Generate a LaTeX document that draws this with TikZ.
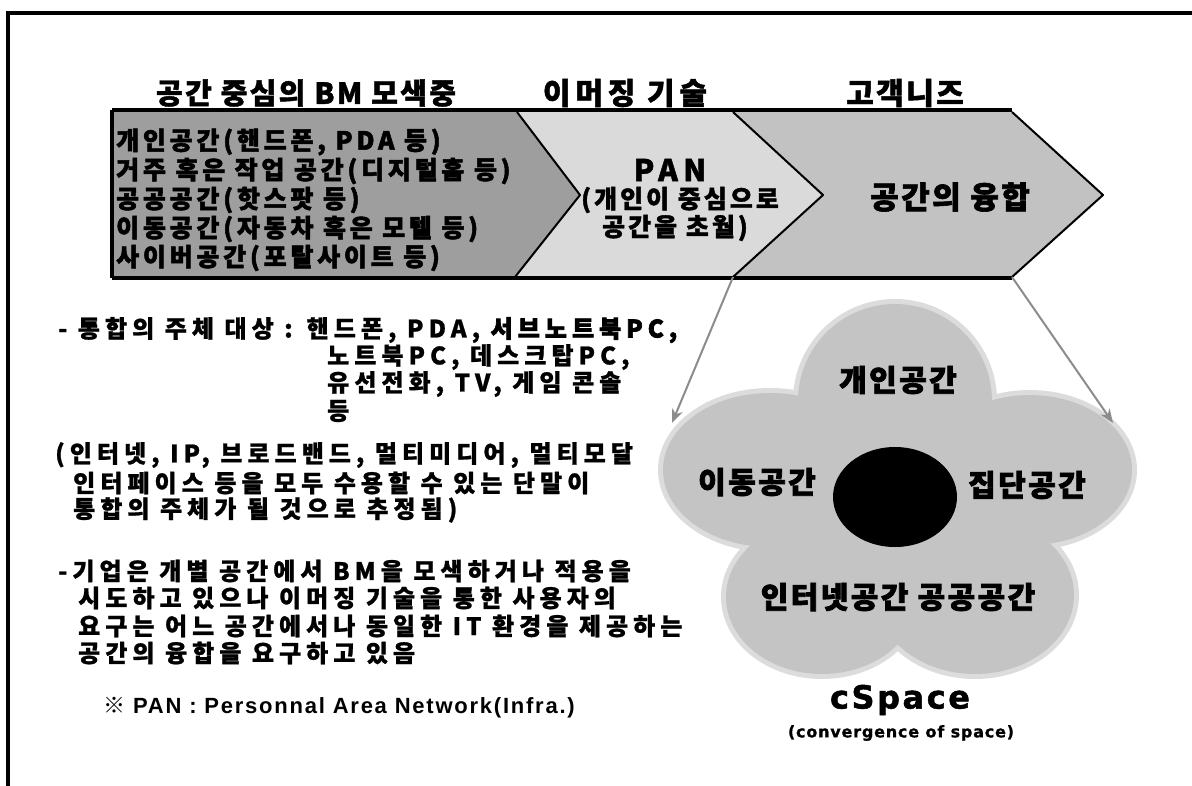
\documentclass[tikz,border=0pt]{standalone}
\usepackage{fontspec}
\setmainfont{Liberation Sans}
\newfontfamily\kr{Noto Sans CJK KR}
\newfontfamily\dvs{DejaVu Sans}
\usetikzlibrary{arrows.meta}
\definecolor{chA}{HTML}{9E9E9E}
\definecolor{chB}{HTML}{DADADA}
\definecolor{chC}{HTML}{C2C2C2}
\definecolor{cloudc}{HTML}{C4C4C4}
\definecolor{cloudh}{HTML}{DCDCDC}
\definecolor{arrowgray}{HTML}{8C8C8C}
\begin{document}
\begin{tikzpicture}[x=1pt,y=-1pt,
  hdr/.style={inner sep=0pt, font=\kr\bfseries\fontsize{29}{31}\selectfont\addfontfeature{LetterSpace=8,FakeBold=1.5}},
  chevtxt/.style={inner sep=0pt, anchor=west, font=\kr\bfseries\fontsize{25}{29}\selectfont\addfontfeature{LetterSpace=15,FakeBold=2}},
  pantxt/.style={inner sep=0pt, font=\kr\bfseries\fontsize{25}{28}\selectfont\addfontfeature{LetterSpace=12,FakeBold=1.5}},
  bigtxt/.style={inner sep=0pt, font=\kr\bfseries\fontsize{31}{33}\selectfont\addfontfeature{LetterSpace=8,FakeBold=2}},
  cloudtxt/.style={inner sep=0pt, font=\kr\bfseries\fontsize{30}{32}\selectfont\addfontfeature{LetterSpace=8,FakeBold=2.5}},
  bodytxt/.style={inner sep=0pt, anchor=west, font=\kr\bfseries\fontsize{24}{26}\selectfont\addfontfeature{LetterSpace=21,FakeBold=1}},
  notetxt/.style={inner sep=0pt, anchor=west, font=\bfseries\fontsize{22}{24}\selectfont\addfontfeature{LetterSpace=8}},
  conn/.style={draw=arrowgray, line width=2, -{Stealth[length=14pt,width=11pt]}},
  outline/.style={draw=black, line width=2, line join=round}
]
\useasboundingbox (0,0) rectangle (1192,785);
\fill[white] (0,0) rectangle (1192,785);

% frame
\draw[line width=3.5] (8,13) -- (8,800);
\draw[line width=4] (6,13) -- (1200,13);

% headers
\node[hdr] (h1) at (306,93) {공간 중심의 BM 모색중};
\node[hdr, font=\kr\bfseries\fontsize{30}{32}\selectfont\addfontfeature{LetterSpace=16,FakeBold=1.5}] (h2) at (625,93) {이머징 기술};
\node[hdr, font=\kr\bfseries\fontsize{30}{32}\selectfont\addfontfeature{LetterSpace=8,FakeBold=1.5}] (h3) at (905,93) {고객니즈};

% chevrons
\coordinate (c2br) at (733,277);
\coordinate (c3br) at (1012,277);
\fill[chA] (112,112) -- (517,112) -- (580,195) -- (515,277) -- (112,277) -- cycle;
\fill[chB] (517,112) -- (733,112) -- (823,195) -- (733,277) -- (515,277) -- (580,195) -- cycle;
\fill[chC] (733,112) -- (1012,112) -- (1103,195) -- (1012,277) -- (733,277) -- (823,195) -- cycle;
\draw[outline] (517,112) -- (580,195) -- (515,277);
\draw[outline] (733,112) -- (823,195) -- (733,277);
\draw[outline] (1012,112) -- (1103,195) -- (1012,277);
\draw[line width=3.5] (112,110) -- (1012,110);
\draw[line width=3.5] (112,278) -- (1012,278);
\draw[line width=3.5] (112,110) -- (112,278);

% chevron texts
\node[chevtxt] (t1) at (116,142) {개인공간(핸드폰, PDA 등)};
\node[chevtxt] (t2) at (116,171) {거주 혹은 작업 공간(디지털홈 등)};
\node[chevtxt] (t3) at (116,200) {공공공간(핫스팟 등)};
\node[chevtxt] (t4) at (116,229) {이동공간(자동차 혹은 모텔 등)};
\node[chevtxt] (t5) at (116,258) {사이버공간(포탈사이트 등)};
\node[pantxt, font=\kr\bfseries\fontsize{30}{32}\selectfont\addfontfeature{LetterSpace=18,FakeBold=1.5}] (pan) at (670,170) {PAN};
\node[pantxt] (pan2) at (680,200) {(개인이 중심으로};
\node[pantxt] (pan3) at (675,228) {공간을 초월)};
\node[bigtxt] (fuse) at (950,197) {공간의 융합};

% cloud halo
\fill[cloudh] (895,401) circle [radius=102];
\fill[cloudh] (770,470) ellipse [x radius=112, y radius=82];
\fill[cloudh] (1030,470) ellipse [x radius=107, y radius=80];
\fill[cloudh] (822,597) ellipse [x radius=101, y radius=82];
\fill[cloudh] (975,595) ellipse [x radius=104, y radius=84];
% cloud
\fill[cloudc] (895,401) circle [radius=97];
\fill[cloudc] (770,470) ellipse [x radius=107, y radius=77];
\fill[cloudc] (1030,470) ellipse [x radius=102, y radius=75];
\fill[cloudc] (822,597) ellipse [x radius=96, y radius=77];
\fill[cloudc] (975,595) ellipse [x radius=99, y radius=79];
\fill[cloudc] (900,495) ellipse [x radius=150, y radius=110];
\fill[black] (895,497) ellipse [x radius=62, y radius=50];
\node[cloudtxt] (s1) at (898,380) {개인공간};
\node[cloudtxt] (s2) at (757,482) {이동공간};
\node[cloudtxt] (s3) at (1027,485) {집단공간};
\node[cloudtxt] (s4) at (898,597) {인터넷공간 공공공간};
\node[inner sep=0pt, font=\dvs\bfseries\fontsize{32}{34}\selectfont\addfontfeature{LetterSpace=8,FakeBold=1.5}] (cs) at (900,700) {cSpace};
\node[inner sep=0pt, font=\dvs\bfseries\fontsize{16}{18}\selectfont\addfontfeature{LetterSpace=5,FakeBold=1}] (cs2) at (901,733) {(convergence of space)};

% arrows
\coordinate (cl) at (672,423);
\coordinate (cr) at (1113,423);
\draw[conn] (c2br) -- (cl);
\draw[conn] (c3br) -- (cr);

% left text
\node[bodytxt] (a) at (58,330) {- 통합의 주체 대상 : 핸드폰, PDA, {\addfontfeature{FakeBold=3}서브노트북PC,}};
\node[bodytxt] (b) at (327,357) {노트북PC, 데스크탑PC,};
\node[bodytxt] (c) at (327,384) {유선전화, TV, 게임 콘솔};
\node[bodytxt] (d) at (327,411) {등};
\node[bodytxt] (e) at (55,455) {(인터넷, IP, 브로드밴드, 멀티미디어, 멀티모달};
\node[bodytxt] (f) at (73,483) {인터페이스 등을 모두 수용할 수 있는 단말이};
\node[bodytxt] (g) at (73,510) {통합의 주체가 될 것으로 추정됨)};
\node[bodytxt] (h) at (58,571) {-기업은 개별 공간에서 BM을 모색하거나 적용을};
\node[bodytxt] (i) at (78,598) {시도하고 있으나 이머징 기술을 통한 사용자의};
\node[bodytxt] (j) at (78,626) {요구는 어느 공간에서나 동일한 IT 환경을 제공하는};
\node[bodytxt] (k) at (78,653) {공간의 융합을 요구하고 있음};
\node[notetxt] (note) at (103,708) {{\kr ※} PAN : Personnal Area Network(Infra.)};
\end{tikzpicture}
\end{document}
